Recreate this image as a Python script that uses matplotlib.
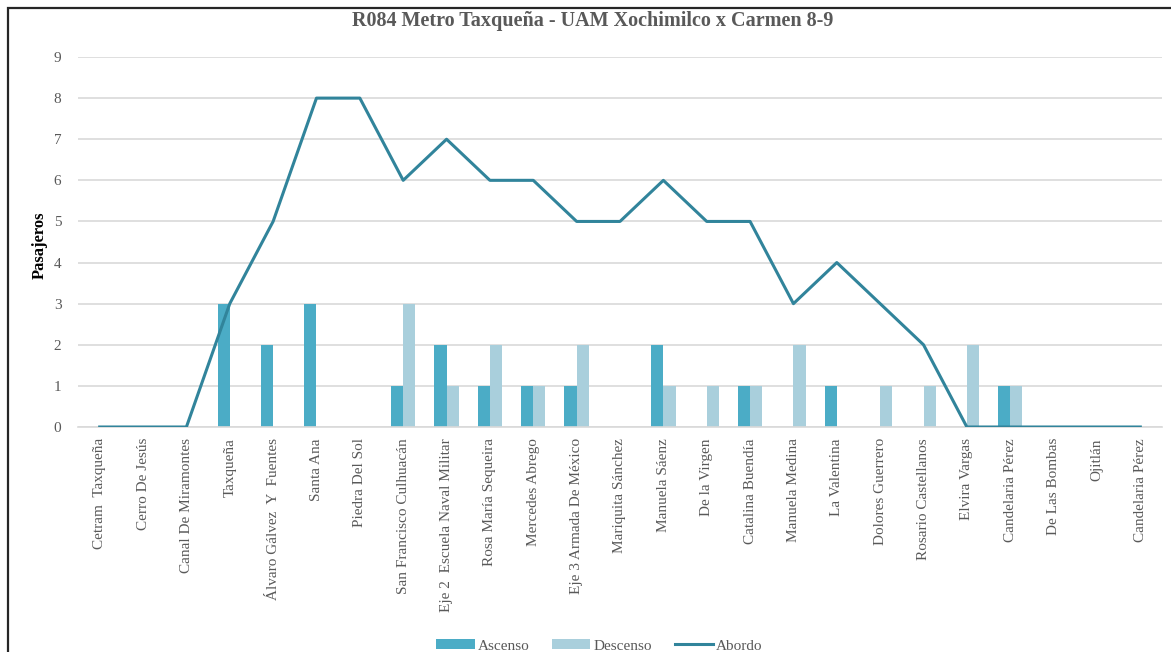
import matplotlib
matplotlib.use('Agg')
import matplotlib.pyplot as plt
import numpy as np
from matplotlib.patches import Rectangle

plt.rcParams['font.family'] = ['Liberation Serif', 'DejaVu Serif']

# Datos de la ruta
paradas = ['Cetram  Taxqueña', 'Cerro De Jesús', 'Canal De Miramontes', 'Taxqueña',
           'Álvaro Gálvez  Y  Fuentes', 'Santa Ana', 'Piedra Del Sol',
           'San Francisco Culhuacán', 'Eje 2  Escuela Naval Militar', 'Rosa María Sequeira',
           'Mercedes Abrego', 'Eje 3 Armada De México', 'Mariquita Sánchez', 'Manuela Sáenz',
           'De la Virgen', 'Catalina Buendía', 'Manuela Medina', 'La Valentina',
           'Dolores Guerrero', 'Rosario Castellanos', 'Elvira Vargas', 'Candelaria Pérez',
           'De Las Bombas', 'Ojitlán', 'Candelaria Pérez']
ascenso = [0, 0, 0, 3, 2, 3, 0, 1, 2, 1, 1, 1, 0, 2, 0, 1, 0, 1, 0, 0, 0, 1, 0, 0, 0]
descenso = [0, 0, 0, 0, 0, 0, 0, 3, 1, 2, 1, 2, 0, 1, 1, 1, 2, 0, 1, 1, 2, 1, 0, 0, 0]
abordo = [0, 0, 0, 3, 5, 8, 8, 6, 7, 6, 6, 5, 5, 6, 5, 5, 3, 4, 3, 2, 0, 0, 0, 0, 0]

c_asc = '#4bacc6'
c_desc = '#a9cfdc'
c_abordo = '#31849b'
gris = '#595959'

fig = plt.figure(figsize=(11.71, 6.52), dpi=100)
ax = fig.add_axes([78 / 1171, 1 - 427 / 652, (1162 - 78) / 1171, (427 - 57) / 652])

x = np.arange(len(paradas))
w = 0.28
b1 = ax.bar(x - w / 2, ascenso, w, color=c_asc, label='Ascenso', zorder=2)
b2 = ax.bar(x + w / 2, descenso, w, color=c_desc, label='Descenso', zorder=2)
l1, = ax.plot(x, abordo, color=c_abordo, lw=2.2, label='Abordo', zorder=3)

ax.set_xlim(-0.5, len(paradas) - 0.5)
ax.set_ylim(0, 9)
ax.set_yticks(range(0, 10))
ax.set_xticks(x)
ax.set_xticklabels(paradas, rotation=90, fontsize=11, color=gris)
ax.tick_params(axis='y', labelsize=11, labelcolor=gris, length=0, pad=12)
ax.tick_params(axis='x', length=0, pad=8)
ax.grid(axis='y', color='#d9d9d9', lw=1.2, zorder=0)
ax.set_axisbelow(True)
for s in ['top', 'right', 'left']:
    ax.spines[s].set_visible(False)
ax.spines['bottom'].set_color('#d9d9d9')
ax.spines['bottom'].set_linewidth(1.2)

ax.set_ylabel('Pasajeros', fontsize=12, fontweight='bold')
ax.yaxis.set_label_coords(-30 / 1084, 0.49)
fig.text(0.506, 1 - 21 / 652, 'R084 Metro Taxqueña - UAM Xochimilco x Carmen 8-9',
         ha='center', va='center', fontsize=14.5, fontweight='bold', color=gris)

fig.legend([b1, b2, l1], ['Ascenso', 'Descenso', 'Abordo'],
           loc='lower center', bbox_to_anchor=(0.512, -0.022), ncol=3, frameon=False,
           fontsize=11, labelcolor=gris, handlelength=2.5, handleheight=0.6,
           columnspacing=1.5, handletextpad=0.2)

# marco del grafico
fig.patches.append(Rectangle((8 / 1171, -0.1), 1.2, 1 - 8 / 652 + 0.1, transform=fig.transFigure,
                             fill=False, edgecolor='#262626', lw=1.6))

fig.savefig('out.png', dpi=100)
